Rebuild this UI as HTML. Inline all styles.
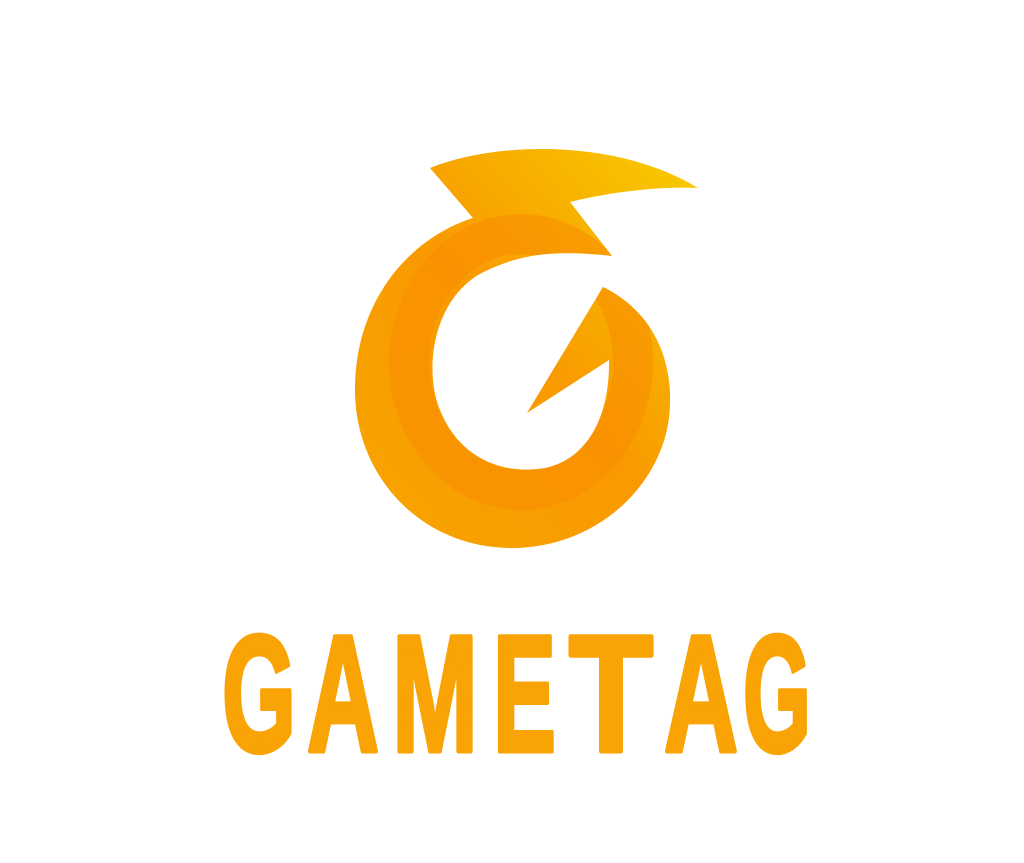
<!DOCTYPE html>
<html><head><meta charset="utf-8"><style>
html,body{margin:0;padding:0;background:#fff;width:1024px;height:863px;overflow:hidden}
</style></head><body>
<svg width="1024" height="863" viewBox="0 0 1024 863">
<defs>
<linearGradient id="g1" x1="0" y1="1" x2="1" y2="0">
<stop offset="0" stop-color="#F8A400"/><stop offset="0.5" stop-color="#F99A00"/><stop offset="1" stop-color="#F7CC00"/>
</linearGradient>
<clipPath id="cp"><path id="shape" d="M430,168 C500,140 620,140 698,188 C660,186 610,192 570,202 L612,256 C560,250 520,252 478,275 C430,305 425,375 440,410 C460,460 505,475 545,468 C585,460 610,420 609,360 L527,413 L603,287 C650,310 672,355 670,405 C668,480 600,548 512,548 C420,548 355,475 355,390 C355,300 410,238 473,218 Z"/></clipPath>
</defs>
<g>
<use href="#shape" fill="url(#g1)"/>
<g clip-path="url(#cp)">
<ellipse cx="521" cy="362" rx="112" ry="128" fill="none" stroke="#F98E00" stroke-width="40" opacity="0.6"/>
</g>
</g>
<g fill="#F9A305" stroke="#F9A305" stroke-width="5" stroke-linejoin="round" font-family="Liberation Sans, sans-serif" font-weight="bold" font-size="166">
<text x="222" y="751" textLength="74" lengthAdjust="spacingAndGlyphs">G</text>
<text x="307" y="751" textLength="72" lengthAdjust="spacingAndGlyphs">A</text>
<text x="392" y="751" textLength="86" lengthAdjust="spacingAndGlyphs">M</text>
<text x="493" y="751" textLength="63" lengthAdjust="spacingAndGlyphs">E</text>
<text x="569" y="751" textLength="84" lengthAdjust="spacingAndGlyphs">T</text>
<text x="664" y="751" textLength="74" lengthAdjust="spacingAndGlyphs">A</text>
<text x="743" y="751" textLength="68" lengthAdjust="spacingAndGlyphs">G</text>
</g>
</svg>
</body></html>
